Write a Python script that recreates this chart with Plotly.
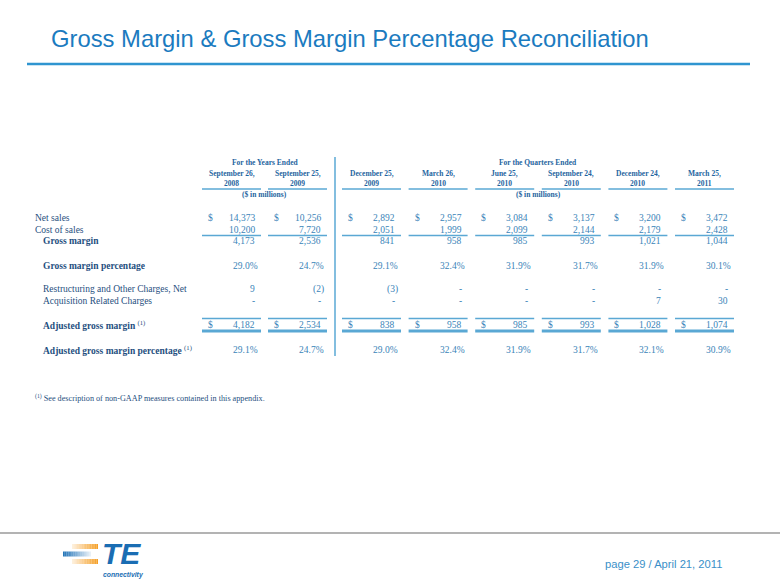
import plotly.graph_objects as go

# ---------------- data ----------------
title_text = "Gross Margin & Gross Margin Percentage Reconciliation"
group_labels = ["For the Years Ended", "For the Quarters Ended"]
units_label = "($ in millions)"
col_line1 = ["September 26,", "September 25,", "December 25,", "March 26,",
             "June 25,", "September 24,", "December 24,", "March 25,"]
col_line2 = ["2008", "2009", "2009", "2010", "2010", "2010", "2010", "2011"]
row_labels = ["Net sales", "Cost of sales", "Gross margin", "Gross margin percentage",
              "Restructuring and Other Charges, Net", "Acquisition Related Charges",
              "Adjusted gross margin", "Adjusted gross margin percentage"]
net_sales = [14373, 10256, 2892, 2957, 3084, 3137, 3200, 3472]
cost_of_sales = [10200, 7720, 2051, 1999, 2099, 2144, 2179, 2428]
gross_margin = [4173, 2536, 841, 958, 985, 993, 1021, 1044]
gm_pct = [29.0, 24.7, 29.1, 32.4, 31.9, 31.7, 31.9, 30.1]
restructuring = [9, -2, -3, 0, 0, 0, 0, 0]
acquisition = [0, 0, 0, 0, 0, 0, 7, 30]
adj_gm = [4182, 2534, 838, 958, 985, 993, 1028, 1074]
adj_pct = [29.1, 24.7, 29.0, 32.4, 31.9, 31.7, 32.1, 30.9]
footnote = "<sup>(1)</sup> See description of non-GAAP measures contained in this appendix."
footer_text = "page 29 / April 21, 2011"

# ---------------- styles / layout ----------------
W, H = 780, 585
TITLE_C = "#1b7bbf"
RULE_C = "#2f95d0"
HEAD_C = "#1f65a0"
LABEL_C = "#1f4f80"
NUM_C = "#3a84b8"
LINE_C = "#5aa8d4"
SERIF = "Liberation Serif"
SANS = "Liberation Sans"

n_years = 2
col_w = 59
col_left = [202 + 66 * i for i in range(n_years)] + \
           [342 + 66.6 * i for i in range(len(col_line1) - n_years)]

row_y = {"net": 218, "cost": 229.5, "gm": 241, "gmp": 266, "restr": 289,
         "acq": 301, "adj": 325, "adjp": 350}

fig = go.Figure()
ann = []
shapes = []


def text(x, y, s, size, color, family=SERIF, xanchor="left", yanchor="middle"):
    ann.append(dict(x=x, y=y, xref="x", yref="y", text=s, showarrow=False,
                    xanchor=xanchor, yanchor=yanchor, borderpad=0,
                    font=dict(family=family, size=size, color=color)))


def hline(x0, x1, y, color, width):
    shapes.append(dict(type="line", xref="x", yref="y", x0=x0, x1=x1, y0=y, y1=y,
                       line=dict(color=color, width=width)))


def fmt_num(v):
    if v == 0:
        return "-"
    if v < 0:
        return "({:,})".format(-v)
    return "{:,}".format(v)


# title + rule
text(50, 38, title_text, 23.8, TITLE_C, family=SANS)
hline(27, 750, 64, RULE_C, 2.5)

# group headers
years_center = (col_left[0] + col_left[n_years - 1] + col_w) / 2
q_center = (col_left[n_years] + col_left[-1] + col_w) / 2
text(years_center, 162, "<b>%s</b>" % group_labels[0], 7.5, HEAD_C, xanchor="center")
text(q_center, 162, "<b>%s</b>" % group_labels[1], 7.5, HEAD_C, xanchor="center")
text(years_center, 194, "<b>%s</b>" % units_label, 7.5, HEAD_C, xanchor="center")
text(q_center, 194, "<b>%s</b>" % units_label, 7.5, HEAD_C, xanchor="center")

# vertical separator
shapes.append(dict(type="line", xref="x", yref="y", x0=335, x1=335, y0=157, y1=356,
                   line=dict(color=LINE_C, width=1.5)))

for i, xl in enumerate(col_left):
    xc = xl + col_w / 2
    xr = xl + col_w
    text(xc, 173, "<b>%s</b>" % col_line1[i], 7.5, HEAD_C, xanchor="center")
    text(xc, 183, "<b>%s</b>" % col_line2[i], 7.5, HEAD_C, xanchor="center")
    hline(xl, xr, 189, LINE_C, 1.5)
    text(xl + 5, row_y["net"], "$", 9.5, NUM_C)
    text(xr - 5, row_y["net"], fmt_num(net_sales[i]), 9.5, NUM_C, xanchor="right")
    text(xr - 5, row_y["cost"], fmt_num(cost_of_sales[i]), 9.5, NUM_C, xanchor="right")
    hline(xl, xr, 235.5, LINE_C, 1.5)
    text(xr - 5, row_y["gm"], fmt_num(gross_margin[i]), 9.5, NUM_C, xanchor="right")
    text(xr - 2, row_y["gmp"], "%.1f%%" % gm_pct[i], 9.5, NUM_C, xanchor="right")
    r = restructuring[i]
    text(xr - (2 if r < 0 else 5), row_y["restr"], fmt_num(r), 9.5, NUM_C, xanchor="right")
    text(xr - 5, row_y["acq"], fmt_num(acquisition[i]), 9.5, NUM_C, xanchor="right")
    hline(xl, xr, 318.5, LINE_C, 1.5)
    text(xl + 5, row_y["adj"], "$", 9.5, NUM_C)
    text(xr - 5, row_y["adj"], fmt_num(adj_gm[i]), 9.5, NUM_C, xanchor="right")
    hline(xl, xr, 331, LINE_C, 3)
    text(xr - 2, row_y["adjp"], "%.1f%%" % adj_pct[i], 9.5, NUM_C, xanchor="right")

# row labels
text(34, row_y["net"], row_labels[0], 9.5, LABEL_C)
text(34, row_y["cost"], row_labels[1], 9.5, LABEL_C)
text(42, row_y["gm"], "<b>%s</b>" % row_labels[2], 9.5, LABEL_C)
text(42, row_y["gmp"], "<b>%s</b>" % row_labels[3], 9.5, LABEL_C)
text(42, row_y["restr"], row_labels[4], 9.5, LABEL_C)
text(42, row_y["acq"], row_labels[5], 9.5, LABEL_C)
text(42, row_y["adj"], "<b>%s</b> <sup>(1)</sup>" % row_labels[6], 9.5, LABEL_C)
text(42, row_y["adjp"], "<b>%s</b> <sup>(1)</sup>" % row_labels[7], 9.5, LABEL_C)

# footnote
text(34, 398, footnote, 8.2, LABEL_C)

# footer rule + page text
hline(0, W, 533, "#b3b3b3", 2)
text(723, 564, footer_text, 11.2, "#3a8fc8", family=SANS, xanchor="right")

# TE logo (gradient bars approximated by segments)
ORANGE = (245, 160, 40)
BLUE = (25, 110, 180)
nseg = 16
for k in range(nseg):
    f = (k + 1) / nseg
    for (y0, y1) in [(544, 549), (559, 564)]:
        x0 = 72 + 26 * k / nseg
        x1 = 72 + 26 * (k + 1) / nseg
        shapes.append(dict(type="rect", xref="x", yref="y", x0=x0, x1=x1, y0=y0, y1=y1,
                           line=dict(width=0), fillcolor="rgba(%d,%d,%d,%.2f)" % (*ORANGE, 0.1 + 0.9 * f)))
    x0 = 63 + 28 * k / nseg
    x1 = 63 + 28 * (k + 1) / nseg
    shapes.append(dict(type="rect", xref="x", yref="y", x0=x0, x1=x1, y0=551.5, y1=556.5,
                       line=dict(width=0), fillcolor="rgba(%d,%d,%d,%.2f)" % (*BLUE, 1 - f * 0.9)))
ann.append(dict(x=101, y=553, xref="x", yref="y", text="TE", showarrow=False,
                xanchor="left", yanchor="middle", borderpad=0,
                font=dict(family=SANS, size=30, color="#1a6db3", weight="bold", style="italic")))
ann.append(dict(x=102, y=575, xref="x", yref="y", text="connectivity", showarrow=False,
                xanchor="left", yanchor="middle", borderpad=0,
                font=dict(family=SANS, size=6.8, color="#1a6db3", weight="bold", style="italic")))

fig.update_layout(
    width=W, height=H, margin=dict(l=0, r=0, t=0, b=0),
    paper_bgcolor="white", plot_bgcolor="white",
    xaxis=dict(range=[0, W], visible=False, fixedrange=True),
    yaxis=dict(range=[H, 0], visible=False, fixedrange=True),
    annotations=ann, shapes=shapes, showlegend=False,
)

fig.write_html("out.html", post_script="document.body.style.margin='0';",
               config={"displayModeBar": False})
